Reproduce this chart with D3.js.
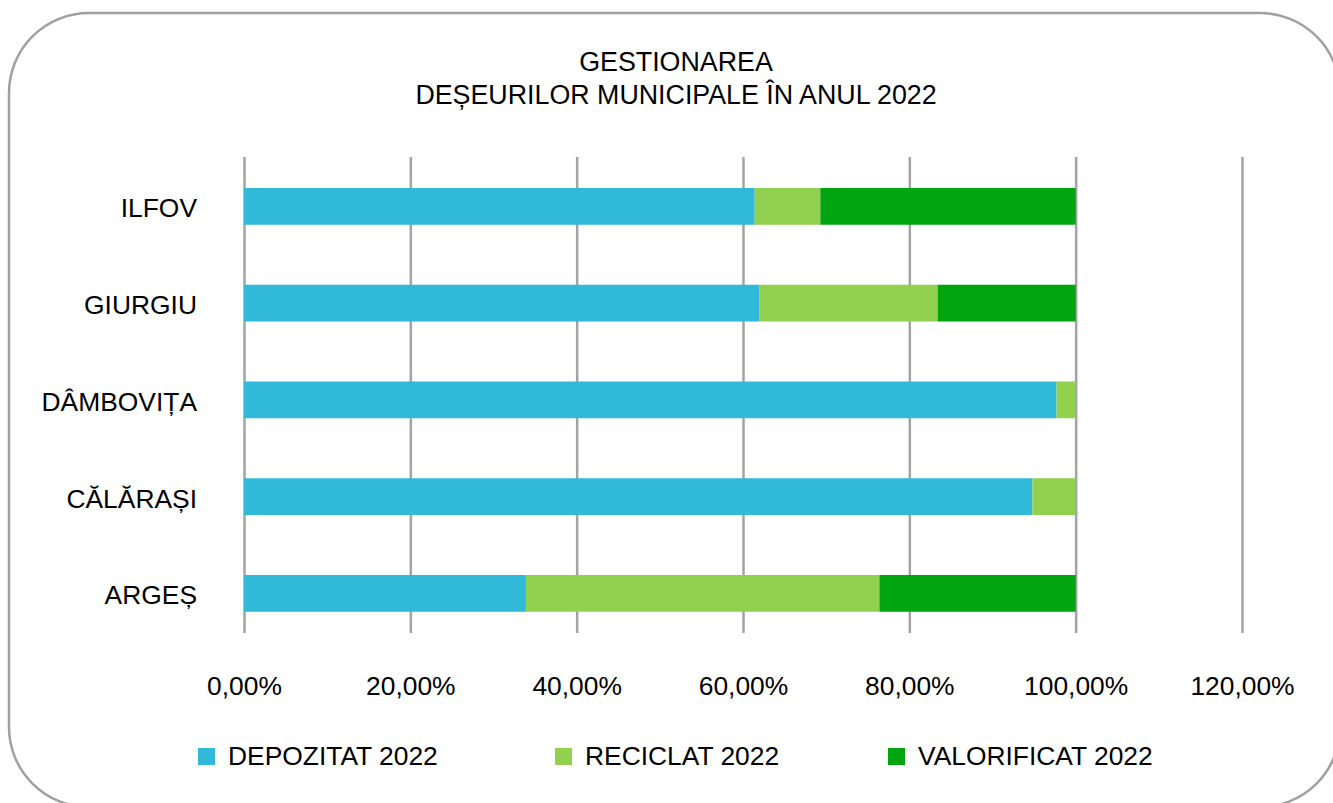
<!DOCTYPE html>
<html>
<head>
<meta charset="utf-8">
<script src="https://cdn.jsdelivr.net/npm/d3@7"></script>
<style>
  body { margin: 0; background: #fff; }
  svg text { font-family: "Liberation Sans", Arial, sans-serif; fill: #000; }
</style>
</head>
<body>
<div id="chart"></div>
<script>
// data (percent)
const categories = ['ILFOV', 'GIURGIU', 'DÂMBOVIȚA', 'CĂLĂRAȘI', 'ARGEȘ'];
const seriesNames = ['DEPOZITAT 2022', 'RECICLAT 2022', 'VALORIFICAT 2022'];
const depozitat = [61.4, 62.0, 97.7, 94.8, 33.9];
const reciclat = [7.9, 21.4, 2.3, 5.2, 42.5];
const valorificat = [30.7, 16.6, 0, 0, 23.6];
const xTicks = [0, 20, 40, 60, 80, 100, 120];
const titleLines = ['GESTIONAREA', 'DEȘEURILOR MUNICIPALE ÎN ANUL 2022'];

const colors = ['#31B9D9', '#92D050', '#00A50F'];

const width = 1333, height = 803;
const plot = {left: 244, right: 1242, top: 157, bottom: 633};
const fontSize = '26.4px';

const svg = d3.select('#chart').append('svg')
    .attr('width', width).attr('height', height);

// rounded frame
svg.append('rect')
    .attr('x', 9).attr('y', 13)
    .attr('width', 1331).attr('height', 794)
    .attr('rx', 80).attr('ry', 80)
    .attr('fill', 'none')
    .attr('stroke', '#a0a0a0').attr('stroke-width', 2.5);

// title
svg.append('text')
    .attr('x', 676).attr('y', 71)
    .attr('text-anchor', 'middle')
    .style('font-size', '26.8px')
    .selectAll('tspan').data(titleLines).join('tspan')
    .attr('x', 676)
    .attr('dy', (d, i) => i === 0 ? 0 : 32.5)
    .text(d => d);

const rows = categories.map((c, i) => ({
    cat: c, d: depozitat[i], r: reciclat[i], v: valorificat[i]
}));
const keys = ['d', 'r', 'v'];
const stacked = d3.stack().keys(keys)(rows);

const scaleX = d3.scaleLinear([0, 120], [plot.left, plot.right]);
const scaleY = d3.scaleBand(categories, [158, 641.75])
    .paddingInner(0.62).paddingOuter(0.31);

// gridlines + tick labels
const axisX = svg.append('g')
    .attr('transform', `translate(0,${plot.bottom})`)
    .call(d3.axisBottom(scaleX)
        .tickValues(xTicks)
        .tickSize(-(plot.bottom - plot.top))
        .tickPadding(43)
        .tickFormat(d => d.toFixed(2).replace('.', ',') + '%'));
axisX.select('.domain').remove();
axisX.selectAll('line').attr('stroke', '#a3a3a3').attr('stroke-width', 2.5);
axisX.selectAll('text')
    .style('font-size', fontSize)
    .style('font-family', '"Liberation Sans", Arial, sans-serif')
    .attr('fill', '#000');

// bars
svg.append('g').selectAll('g.series')
    .data(stacked).join('g')
    .classed('series', true)
    .attr('fill', (d, i) => colors[i])
    .selectAll('rect').data(d => d).join('rect')
    .attr('x', d => scaleX(d[0]))
    .attr('width', d => scaleX(d[1]) - scaleX(d[0]))
    .attr('y', d => scaleY(d.data.cat))
    .attr('height', scaleY.bandwidth());

// category labels
const axisY = svg.append('g')
    .attr('transform', `translate(${plot.left},0)`)
    .call(d3.axisLeft(scaleY).tickSize(0).tickPadding(47));
axisY.select('.domain').remove();
axisY.selectAll('text')
    .attr('dy', '0.42em')
    .style('font-size', fontSize)
    .style('font-family', '"Liberation Sans", Arial, sans-serif')
    .attr('fill', '#000');

// legend
const legendX = [198, 555, 888];
const legend = svg.append('g').selectAll('g')
    .data(seriesNames).join('g')
    .attr('transform', (d, i) => `translate(${legendX[i]},748)`);
legend.append('rect')
    .attr('width', 17).attr('height', 17)
    .attr('fill', (d, i) => colors[i]);
legend.append('text')
    .attr('x', 30).attr('y', 17)
    .style('font-size', fontSize)
    .text(d => d);
</script>
</body>
</html>
